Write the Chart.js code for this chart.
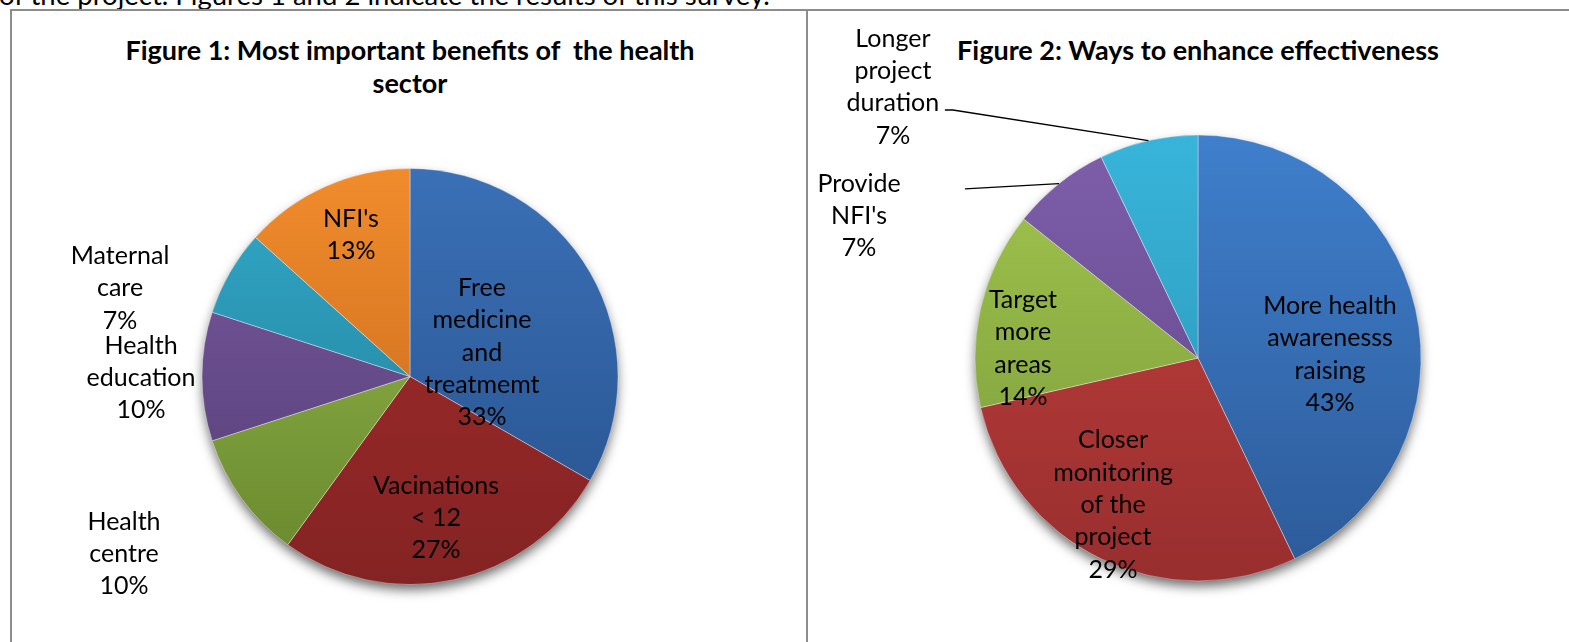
<!DOCTYPE html>
<html>
<head>
<meta charset="utf-8">
<script src="https://cdn.jsdelivr.net/npm/chart.js@4"></script>
<style>
  body { margin: 0; width: 1569px; height: 642px; overflow: hidden; background: #fff; position: relative; font-family: Lato, "Open Sans", sans-serif; color: #000; }
  .intro { position: absolute; left: -1px; top: -22px; font-size: 27.5px; white-space: nowrap; }
  .rule { position: absolute; background: #8c8c8c; }
  .cell { position: absolute; top: 0; height: 642px; }
  .title { position: absolute; font-weight: bold; font-size: 27px; line-height: 33px; text-align: center; white-space: nowrap; }
</style>
</head>
<body>
<div class="intro">of the project. Figures 1 and 2 indicate the results of this survey.</div>
<div class="rule" style="left:10px; top:9px; width:1559px; height:2px;"></div>
<div class="rule" style="left:10px; top:9px; width:2px; height:633px;"></div>
<div class="rule" style="left:806px; top:9px; width:2px; height:633px;"></div>

<div class="title" style="left:60px; width:700px; top:33px;">Figure 1: Most important benefits of&nbsp; the health<br>sector</div>
<div class="title" style="left:900px; width:596px; top:33px;">Figure 2: Ways to enhance effectiveness</div>

<div class="cell" style="left:0; width:808px;"><canvas id="benefitsChart"></canvas></div>
<div class="cell" style="left:808px; width:761px;"><canvas id="waysChart"></canvas></div>

<script>
// Figure 1 data (respondent counts, shown as %)
const benefitLabels = [['Free', 'medicine', 'and', 'treatmemt'], ['Vacinations', '< 12'], ['Health', 'centre'], ['Health', 'education'], ['Maternal', 'care'], ["NFI's"]];
const benefitValues = [10, 8, 3, 3, 2, 4];

// Figure 2 data
const wayLabels = [['More health', 'awarenesss', 'raising'], ['Closer', 'monitoring', 'of the', 'project'], ['Target', 'more', 'areas'], ['Provide', "NFI's"], ['Longer', 'project', 'duration']];
const wayValues = [6, 4, 2, 1, 1];

// colours: [top, bottom] of the vertical shading
const benefitColors = [['#3a70b6', '#27518c'], ['#a52c2c', '#842323'], ['#98bb4e', '#67872c'], ['#7a5ca2', '#523a72'], ['#32a9c9', '#1f7a92'], ['#f18c2c', '#c0641a']];
const wayColors = [['#3f7fcc', '#2c5a98'], ['#c4423e', '#982e2e'], ['#a2c64e', '#78983a'], ['#7e5eaa', '#5e4586'], ['#38b4da', '#2892b0']];

// label placement, in pie radii from the centre
const benefitLabelPos = [[0.346, -0.115], [0.125, 0.680], [-1.375, 0.853], [-1.293, 0.007], [-1.394, -0.425], [-0.284, -0.680]];
const wayLabelPos = [[0.592, -0.016], [-0.381, 0.659], [-0.785, -0.043], [-1.520, -0.637], [-1.368, -1.215]];
const wayLeaders = [null, null, null, [-1.045, -0.758, 0], [-1.135, -1.112, 8]];

function shade(pairs) {
    return (context) => {
        const chart = context.chart;
        const area = chart.chartArea;
        const pair = pairs[context.dataIndex];
        if (!area) return pair[0];
        const g = chart.ctx.createLinearGradient(0, area.top, 0, area.bottom);
        g.addColorStop(0, pair[0]);
        g.addColorStop(1, pair[1]);
        return g;
    };
}

const sliceLabels = {
    id: 'sliceLabels',
    beforeDatasetsDraw(chart) {
        // soft drop shadow under the whole pie
        const arc = chart.getDatasetMeta(0).data[0];
        if (!arc) return;
        const ctx = chart.ctx;
        ctx.save();
        ctx.shadowColor = 'rgba(0,0,0,0.6)';
        ctx.shadowBlur = 12;
        ctx.shadowOffsetY = 6;
        ctx.fillStyle = '#fff';
        ctx.beginPath();
        ctx.arc(arc.x, arc.y, arc.outerRadius - 1, 0, Math.PI * 2);
        ctx.fill();
        ctx.restore();
    },
    afterDatasetsDraw(chart, args, opts) {
        const meta = chart.getDatasetMeta(0);
        const data = chart.data.datasets[0].data;
        const total = data.reduce((a, b) => a + b, 0);
        const ctx = chart.ctx;
        ctx.save();
        ctx.font = opts.font;
        ctx.fillStyle = '#000';
        ctx.strokeStyle = '#000';
        ctx.lineWidth = 1.3;
        ctx.textAlign = 'center';
        ctx.textBaseline = 'middle';
        meta.data.forEach((arc, i) => {
            const r = arc.outerRadius;
            const pos = opts.positions[i];
            const lines = chart.data.labels[i].concat(Math.round(data[i] / total * 100) + '%');
            const x = arc.x + pos[0] * r;
            const y = arc.y + pos[1] * r;
            const top = y - (lines.length - 1) * opts.lineHeight / 2;
            lines.forEach((t, k) => ctx.fillText(t, x, top + k * opts.lineHeight));

            const lead = opts.leaders && opts.leaders[i];
            if (lead) {
                const mid = (arc.startAngle + arc.endAngle) / 2;
                const sx = arc.x + lead[0] * r, sy = arc.y + lead[1] * r;
                ctx.beginPath();
                ctx.moveTo(sx, sy);
                ctx.lineTo(sx + lead[2], sy);
                ctx.lineTo(arc.x + Math.cos(mid) * r, arc.y + Math.sin(mid) * r);
                ctx.stroke();
            }
        });
        ctx.restore();
    }
};

function makePie(id, labels, values, colors, radius, padding, positions, leaders) {
    return new Chart(document.getElementById(id), {
        type: 'pie',
        data: {
            labels: labels,
            datasets: [{
                data: values,
                backgroundColor: shade(colors),
                borderColor: 'rgba(255,255,255,0.35)',
                borderWidth: 1,
                hoverOffset: 0
            }]
        },
        options: {
            responsive: true,
            maintainAspectRatio: false,
            animation: false,
            events: [],
            radius: radius,
            layout: { padding: padding },
            plugins: {
                legend: { display: false },
                tooltip: { enabled: false },
                sliceLabels: {
                    positions: positions,
                    leaders: leaders,
                    font: '25px Lato, "Open Sans", sans-serif',
                    lineHeight: 32.4
                }
            }
        },
        plugins: [sliceLabels]
    });
}

makePie('benefitsChart', benefitLabels, benefitValues, benefitColors, 208,
    { left: 202, right: 190, top: 168.5, bottom: 57.5 }, benefitLabelPos, null);
makePie('waysChart', wayLabels, wayValues, wayColors, 223,
    { left: 167, right: 148, top: 135, bottom: 61 }, wayLabelPos, wayLeaders);
</script>
</body>
</html>
